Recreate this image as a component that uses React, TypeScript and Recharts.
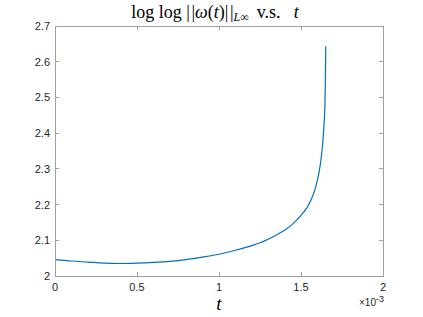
import React from "react";
import { LineChart, Line, XAxis, YAxis, ReferenceArea } from "recharts";

// t in units of 1e-3
const tValues = [
  0, 0.1, 0.2, 0.3, 0.4, 0.5, 0.6, 0.7, 0.8, 0.9, 1.0, 1.1, 1.2, 1.25, 1.3,
  1.35, 1.4, 1.45, 1.5, 1.535, 1.56, 1.585, 1.61, 1.624, 1.634, 1.641, 1.646,
  1.649, 1.651,
];
const logLogOmega = [
  2.046, 2.042, 2.039, 2.036, 2.035, 2.036, 2.038, 2.041, 2.046, 2.053, 2.061,
  2.072, 2.085, 2.093, 2.103, 2.115, 2.128, 2.146, 2.17, 2.19, 2.212, 2.242,
  2.29, 2.334, 2.381, 2.43, 2.48, 2.56, 2.643,
];
const xTicks = [0, 0.5, 1, 1.5, 2];
const yTicks = [2, 2.1, 2.2, 2.3, 2.4, 2.5, 2.6, 2.7];
const xTickLabels = ["0", "0.5", "1", "1.5", "2"];
const yTickLabels = ["2", "2.1", "2.2", "2.3", "2.4", "2.5", "2.6", "2.7"];

const data = tValues.map((t, i) => ({ t, v: logLogOmega[i] }));

const W = 423;
const H = 317;
const M = { top: 26, right: 40, bottom: 0, left: 0 };
const Y_AXIS_W = 55;
const X_AXIS_H = 41;
const PLOT_W = W - M.left - M.right - Y_AXIS_W;
const PLOT_H = H - M.top - M.bottom - X_AXIS_H;

const AXIS = "#a0a0a0";
const TXT = "#262626";
const SANS = "'Liberation Sans', Arial, Helvetica, sans-serif";
const SERIF = "'Liberation Serif', 'Times New Roman', serif";
const TL = 4;

const BottomTick = (p: any) => {
  const i = xTicks.indexOf(p.payload.value);
  return (
    <g>
      <line x1={p.x} y1={p.y} x2={p.x} y2={p.y - TL} stroke={AXIS} strokeWidth={1} shapeRendering="crispEdges" />
      <line x1={p.x} y1={p.y - PLOT_H} x2={p.x} y2={p.y - PLOT_H + TL} stroke={AXIS} strokeWidth={1} shapeRendering="crispEdges" />
      <text x={p.x} y={p.y + 15} textAnchor="middle" fontSize={11} fontFamily={SANS} fill={TXT}>
        {i >= 0 ? xTickLabels[i] : p.payload.value}
      </text>
    </g>
  );
};
const LeftTick = (p: any) => {
  const i = yTicks.indexOf(p.payload.value);
  return (
    <g>
      <line x1={p.x} y1={p.y} x2={p.x + TL} y2={p.y} stroke={AXIS} strokeWidth={1} shapeRendering="crispEdges" />
      <line x1={p.x + PLOT_W} y1={p.y} x2={p.x + PLOT_W - TL} y2={p.y} stroke={AXIS} strokeWidth={1} shapeRendering="crispEdges" />
      <text x={p.x - 5} y={p.y + 4} textAnchor="end" fontSize={11} fontFamily={SANS} fill={TXT}>
        {i >= 0 ? yTickLabels[i] : p.payload.value}
      </text>
    </g>
  );
};

const axisLineStyle = { stroke: AXIS, strokeWidth: 1, shapeRendering: "crispEdges" };

export default function App() {
  return (
    <div style={{ position: "absolute", left: 0, top: 0, width: W, height: H, background: "#fff" }}>
      <LineChart width={W} height={H} data={data} margin={M}>
        <ReferenceArea
          x1={0}
          x2={2}
          y1={2}
          y2={2.7}
          fill="none"
          stroke={AXIS}
          strokeWidth={1}
          shapeRendering="crispEdges"
        />
        <XAxis
          dataKey="t"
          type="number"
          domain={[0, 2]}
          ticks={xTicks}
          height={X_AXIS_H}
          tickSize={0}
          tickMargin={0}
          tickLine={false}
          axisLine={axisLineStyle}
          stroke={AXIS}
          tick={<BottomTick />}
          interval={0}
        />
        <YAxis
          type="number"
          domain={[2, 2.7]}
          ticks={yTicks}
          width={Y_AXIS_W}
          tickSize={0}
          tickMargin={0}
          tickLine={false}
          axisLine={axisLineStyle}
          stroke={AXIS}
          tick={<LeftTick />}
          interval={0}
          allowDataOverflow
        />
        <Line
          type="monotone"
          dataKey="v"
          stroke="#0072BD"
          strokeWidth={1.2}
          dot={false}
          activeDot={false}
          isAnimationActive={false}
        />
      </LineChart>
      <svg width={W} height={H} style={{ position: "absolute", left: 0, top: 0, pointerEvents: "none" }}>
        <text x={215} y={18} textAnchor="middle" fontFamily={SERIF} fontSize={18} fill="#000" style={{ whiteSpace: "pre" }}>
          <tspan>log log |</tspan>
          <tspan dx={1.5}>|</tspan>
          <tspan fontStyle="italic">ω</tspan>
          <tspan>(</tspan>
          <tspan fontStyle="italic">t</tspan>
          <tspan>)|</tspan>
          <tspan dx={1.5}>|</tspan>
          <tspan fontStyle="italic" fontSize={12} dy={3}>L</tspan>
          <tspan fontSize={12}>∞</tspan>
          <tspan dy={-3} dx={8}>v.s.</tspan>
          <tspan fontStyle="italic" dx={13}>t</tspan>
        </text>
        <text x={219} y={310} textAnchor="middle" fontFamily={SERIF} fontStyle="italic" fontSize={19} fill="#000">
          t
        </text>
        <text x={384} y={306} textAnchor="end" fontFamily={SANS} fontSize={10} fill={TXT}>
          <tspan>×10</tspan>
          <tspan fontSize={9} dy={-4}>-3</tspan>
        </text>
      </svg>
    </div>
  );
}
